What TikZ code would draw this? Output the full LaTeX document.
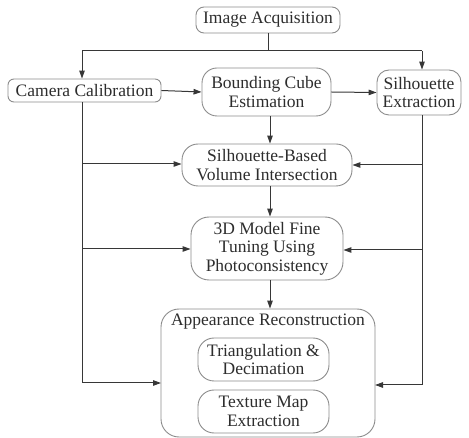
\documentclass[tikz,border=0pt]{standalone}
\usepackage{fontspec}
\setmainfont{Liberation Serif}
\usetikzlibrary{arrows.meta}
\definecolor{boxgray}{RGB}{140,140,140}
\definecolor{linegray}{RGB}{55,55,55}
\definecolor{textgray}{RGB}{45,45,45}
\begin{document}
\begin{tikzpicture}[x=1pt,y=-1pt,
  box/.style={draw=boxgray,line width=0.9pt,align=center,inner sep=0pt,
    text=textgray,font=\fontsize{17.5}{18.6}\selectfont},
  arr/.style={draw=linegray,line width=1pt,-{Triangle[length=8pt,width=5.5pt]}},
  ln/.style={draw=linegray,line width=1pt}]
\useasboundingbox (0,0) rectangle (469,438);

% process boxes
\node[box,rounded corners=8pt,minimum width=144pt,minimum height=26pt] (ia) at (268,20) {Image Acquisition};
\node[box,rounded corners=6pt,minimum width=153pt,minimum height=23pt] (cc) at (84.5,90.5) {Camera Calibration};
\node[box,rounded corners=15pt,minimum width=129pt,minimum height=48pt] (bc) at (266.5,92) {Bounding Cube\\Estimation};
\node[box,rounded corners=12pt,minimum width=84pt,minimum height=45pt] (se) at (419,92.5) {Silhouette\\Extraction};
\node[box,rounded corners=16pt,minimum width=170pt,minimum height=42pt] (vi) at (267,165) {Silhouette-Based\\Volume Intersection};
\node[box,rounded corners=18pt,minimum width=152pt,minimum height=63pt] (ft) at (267,248.5) {3D Model Fine\\Tuning Using\\Photoconsistency};
\node[box,rounded corners=18pt,minimum width=214pt,minimum height=128pt] (ar) at (268,373) {};
\node[text=textgray,font=\fontsize{17.5}{18.6}\selectfont,inner sep=0pt] (art) at (268,322) {Appearance Reconstruction};
\node[box,rounded corners=16pt,minimum width=131pt,minimum height=43pt] (td) at (263.5,359.5) {Triangulation \&\\Decimation};
\node[box,rounded corners=16pt,minimum width=131pt,minimum height=43pt] (tm) at (263.5,411.5) {Texture Map\\Extraction};

% bus junctions
\coordinate (busL) at (82,51);
\coordinate (busR) at (422,51);
\coordinate (arL) at (161,383);
\coordinate (arR) at (375,385);

% distribution from image acquisition
\draw[ln] (ia.south) -- (ia.south |- busL);
\draw[ln] (busL) -- (busR);
\draw[arr] (busL) -- (busL |- cc.north);
\draw[arr] (busR) -- (busR |- se.north);

% main chain
\draw[arr] (cc.east) -- (bc.west);
\draw[arr] (bc.east) -- (se.west);
\draw[arr] (bc.south -| 270,0) -- (vi.north -| 270,0);
\draw[arr] (vi.south -| 270,0) -- (ft.north -| 270,0);
\draw[arr] (ft.south -| 270,0) -- (ar.north -| 270,0);

% camera calibration feeds
\draw[ln] (busL |- cc.south) -- (busL |- arL);
\draw[arr] (busL |- arL) -- (arL);
\draw[arr] (busL |- 0,164) -- (vi.west |- 0,164);
\draw[arr] (busL |- 0,249) -- (ft.west |- 0,249);

% silhouette feeds
\draw[ln] (busR |- se.south) -- (busR |- arR);
\draw[arr] (busR |- arR) -- (arR);
\draw[arr] (busR |- 0,165) -- (vi.east |- 0,165);
\draw[arr] (busR |- 0,250) -- (ft.east |- 0,250);
\end{tikzpicture}
\end{document}
